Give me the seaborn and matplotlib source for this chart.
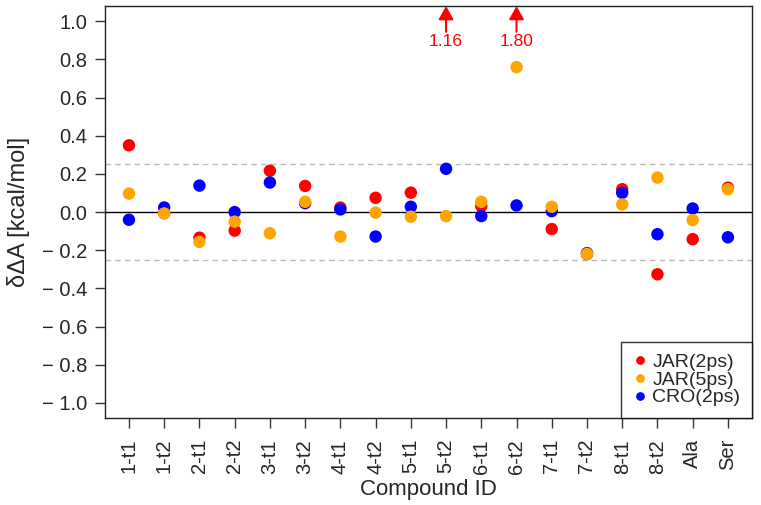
import pandas as pd
import numpy as np
import seaborn as sns
import matplotlib.pyplot as plt

# values
compounds = ['1-t1', '1-t2', '2-t1', '2-t2', '3-t1', '3-t2', '4-t1', '4-t2', '5-t1',
             '5-t2', '6-t1', '6-t2', '7-t1', '7-t2', '8-t1', '8-t2', 'Ala', 'Ser']
jar_2ps = [0.350, -0.005, -0.134, -0.097, 0.217, 0.137, 0.024, 0.075, 0.102,
           1.16, 0.031, 1.80, -0.089, -0.220, 0.120, -0.326, -0.142, 0.128]
jar_5ps = [0.097, -0.007, -0.156, -0.050, -0.111, 0.054, -0.128, -0.003, -0.024,
           -0.021, 0.054, 0.760, 0.028, -0.219, 0.040, 0.181, -0.042, 0.120]
cro_2ps = [-0.040, 0.024, 0.139, 0.000, 0.155, 0.047, 0.014, -0.128, 0.028,
           0.227, -0.021, 0.035, 0.005, -0.215, 0.101, -0.116, 0.019, -0.132]

series = ['JAR(2ps)', 'JAR(5ps)', 'CRO(2ps)']
colors = {'JAR(2ps)': 'red', 'JAR(5ps)': 'orange', 'CRO(2ps)': 'blue'}

# drawing order in the reference: red, then blue, then orange on top
df = pd.concat([
    pd.DataFrame({'compound': compounds, 'dA': jar_2ps, 'method': 'JAR(2ps)'}),
    pd.DataFrame({'compound': compounds, 'dA': cro_2ps, 'method': 'CRO(2ps)'}),
    pd.DataFrame({'compound': compounds, 'dA': jar_5ps, 'method': 'JAR(5ps)'}),
], ignore_index=True)

sns.set_style('white')
plt.rcParams['font.family'] = ['Liberation Sans', 'DejaVu Sans']

fig = plt.figure(figsize=(7.61, 5.05), dpi=100)
ax = fig.add_axes([0.138, 0.172, 0.850, 0.816])

ylo, yhi = -1.08, 1.08

# reference lines
ax.axhline(0.25, color='#bbbbbb', lw=1, ls=(0, (4, 3)), zorder=1)
ax.axhline(-0.25, color='#bbbbbb', lw=1, ls=(0, (4, 3)), zorder=1)
ax.axhline(0, color='black', lw=1, zorder=1)

sns.scatterplot(data=df, x='compound', y='dA', hue='method', hue_order=series,
                palette=colors, s=80, linewidth=0, ax=ax, zorder=3)

ax.set_xlim(-0.68, len(compounds) - 1 + 0.68)
ax.set_ylim(ylo, yhi)

# off-scale values marked with arrows
for i, v in enumerate(jar_2ps):
    if v > yhi:
        ax.annotate('', xy=(i, yhi), xytext=(i, 0.945),
                    arrowprops=dict(arrowstyle='-|>,head_length=0.8,head_width=0.45',
                                    color='red', lw=1.5, shrinkA=0, shrinkB=0),
                    annotation_clip=False)
        ax.text(i, 0.895, f'{v:.2f}', color='red', ha='center', va='center', fontsize=12.5)

yticks = [round(-1.0 + 0.2 * k, 1) + 0.0 for k in range(11)]
ax.set_yticks(yticks)
ax.set_yticklabels([f'{abs(t):.1f}' if t >= -1e-9 else f'\u2212 {abs(t):.1f}' for t in yticks])
ax.set_xticks(range(len(compounds)))
ax.set_xticklabels(compounds, rotation=90)
ax.tick_params(axis='both', direction='out', length=7, width=1, color='#333333',
               labelsize=14.5, bottom=True, left=True)
ax.tick_params(axis='y', pad=6)
ax.tick_params(axis='x', pad=8)

for sp in ax.spines.values():
    sp.set_color('#222222')
    sp.set_linewidth(1)

ax.set_xlabel('Compound ID', fontsize=16, labelpad=4)
ax.set_ylabel('δΔA [kcal/mol]', fontsize=17, labelpad=8)

leg = ax.legend(loc='lower right', borderaxespad=0, fontsize=14, frameon=True,
                fancybox=False, handletextpad=0.3, borderpad=0.6, labelspacing=0.0,
                markerscale=0.7, handlelength=0.7)
leg.get_frame().set_edgecolor('black')
leg.get_frame().set_linewidth(1)

fig.savefig('out.png', dpi=100)
